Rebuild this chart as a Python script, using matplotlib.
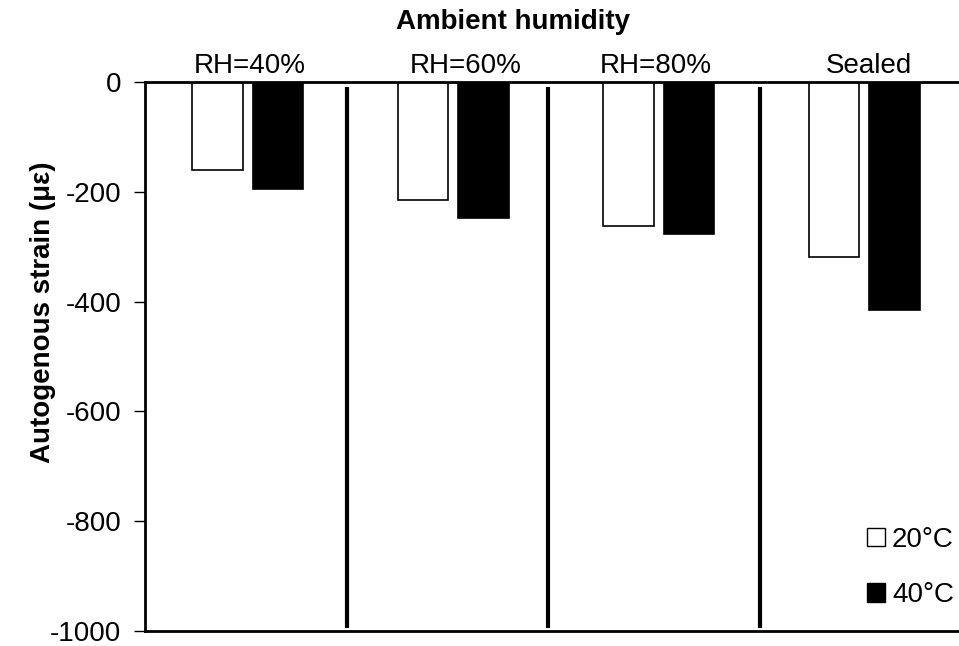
import numpy as np
import matplotlib.pyplot as plt
from matplotlib.patches import Patch

plt.rcParams['font.family'] = ['Liberation Sans', 'DejaVu Sans']

groups = ['RH=40%', 'RH=60%', 'RH=80%', 'Sealed']
strain_20 = [-160, -215, -262, -318]   # 20°C
strain_40 = [-195, -248, -277, -415]   # 40°C
yticks = [0, -200, -400, -600, -800, -1000]

fig = plt.figure(figsize=(9.59, 6.46), dpi=100)
ax = fig.add_axes([145/959, 15/646, 814/959, 549/646])

x = np.arange(len(groups))
w = 0.245
ax.bar(x - 0.148, strain_20, w, color='white', edgecolor='black', linewidth=1.2,
       zorder=2)
ax.bar(x + 0.146, strain_40, w, color='black', edgecolor='black', linewidth=1.2,
       zorder=2)

# separators between humidity groups
for xs in [0.485, 1.461, 2.49]:
    ax.plot([xs, xs], [-9, -994], color='black', lw=3, solid_capstyle='butt',
            zorder=3)

# group labels sit a bit off-centre in the original
label_dx = [0.01, 0.06, -0.015, 0.02]
for i, g in enumerate(groups):
    ax.text(i + label_dx[i], 16, g, ha='center', va='baseline', fontsize=20,
            clip_on=False)

ax.set_xlim(-0.5, 3.46)
ax.set_ylim(-1000, 0)
ax.set_yticks(yticks)
ax.set_yticklabels([str(v) for v in yticks], fontsize=20)
ax.set_xticks([])
ax.tick_params(axis='y', direction='out', length=8, width=1, pad=9)
ax.spines['right'].set_visible(False)
for s in ['left', 'top', 'bottom']:
    ax.spines[s].set_linewidth(2)

fig.text(43/959, 1 - 312/646, 'Autogenous strain (με)', rotation=90,
         ha='center', va='center', fontsize=20, fontweight='bold')
fig.text(513/959, 1 - 29/646, 'Ambient humidity', ha='center', va='baseline',
         fontsize=20, fontweight='bold')

handles = [Patch(facecolor='white', edgecolor='black', linewidth=1),
           Patch(facecolor='black', edgecolor='black', linewidth=1)]
ax.legend(handles, ['20°C', '40°C'], loc='lower right',
          bbox_to_anchor=(954/959, 38/646), bbox_transform=fig.transFigure,
          frameon=False, fontsize=20, handlelength=0.65, handleheight=0.65,
          handletextpad=0.25, labelspacing=1.05, borderaxespad=0,
          borderpad=0)

fig.savefig('out.png', dpi=100)
